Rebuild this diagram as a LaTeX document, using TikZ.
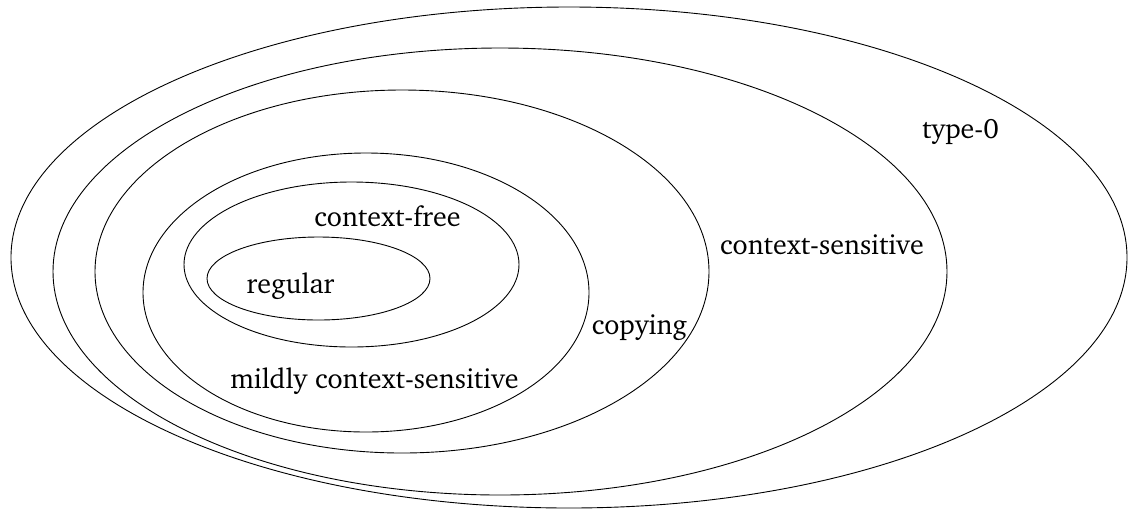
\documentclass[tikz,border=0pt]{standalone}
\usepackage[T1]{fontenc}
\usepackage{charter}
\usepackage{tikz}

\begin{document}
\begin{tikzpicture}[
    x=0.5pt, y=-0.5pt,
    langset/.style={draw=black, line width=0.45pt},
    langname/.style={font=\fontsize{14}{16}\selectfont, inner sep=0pt, anchor=base}
]
\useasboundingbox (0,0) rectangle (1129,510);

% nested language classes, outermost first
\draw[langset] (569,257.5) ellipse (279pt and 125.25pt);
\draw[langset] (500,271.5) ellipse (223.5pt and 111.75pt);
\draw[langset] (402,271.5) ellipse (153.5pt and 90.75pt);
\draw[langset] (366,292.5) ellipse (111.5pt and 69.75pt);
\draw[langset] (351.5,264.5) ellipse (83.75pt and 41.25pt);
\draw[langset] (318.5,278.5) ellipse (55.75pt and 20.75pt);

\node[langname] (type0) at (960.5,138) {type-0};
\node[langname] (cs) at (822,254) {context-sensitive};
\node[langname] (copy) at (639.5,334) {copying};
\node[langname] (mcs) at (374.5,388) {mildly context-sensitive};
\node[langname] (cf) at (387.5,226) {context-free};
\node[langname] (reg) at (290.5,293) {regular};
\end{tikzpicture}
\end{document}
